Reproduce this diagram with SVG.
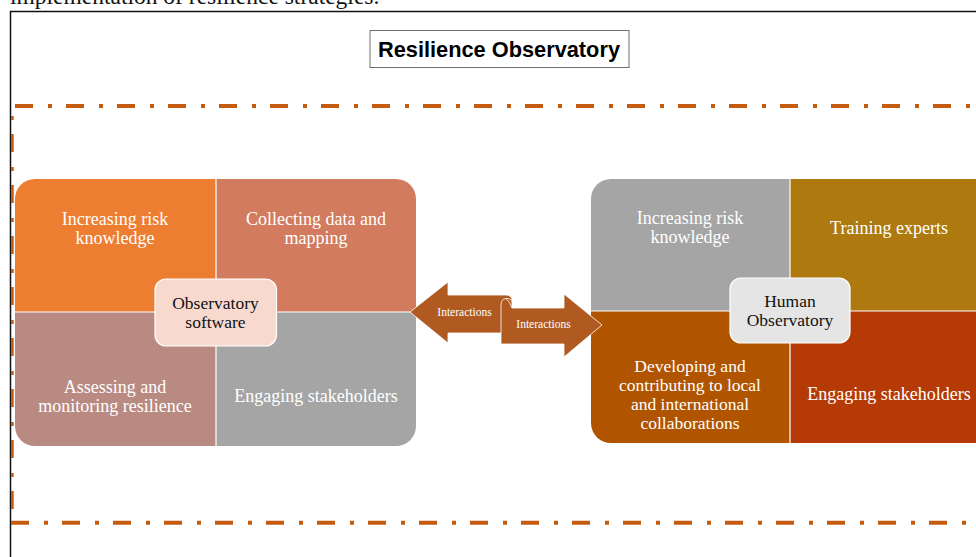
<svg xmlns="http://www.w3.org/2000/svg" width="976" height="557" viewBox="0 0 976 557">
  <style>
    .serif { font-family: "Liberation Serif", "Times New Roman", serif; }
    .cell { font-family: "Liberation Serif", "Times New Roman", serif; font-size: 18px; fill: #ffffff; text-anchor: middle; }
    .cell-sm { font-size: 17.5px; }
    .hub { font-family: "Liberation Serif", "Times New Roman", serif; font-size: 17.5px; fill: #111111; text-anchor: middle; }
    .arrowtxt { font-family: "Liberation Serif", "Times New Roman", serif; font-size: 11.5px; fill: #ffffff; text-anchor: middle; }
    .divider { stroke: #ffffff; stroke-width: 1.2; }
    .dashline { stroke: #C55A11; fill: none; stroke-dasharray: 18 15 4 14; }
    .arrow { fill: #B05A22; stroke: #ffffff; stroke-width: 0.8; }
  </style>
  <defs>
    <clipPath id="clipLeft">
      <rect x="15" y="179" width="401" height="267" rx="20" ry="20"/>
    </clipPath>
    <clipPath id="clipRight">
      <rect x="591" y="179" width="420" height="264" rx="20" ry="20"/>
    </clipPath>
  </defs>

  <rect x="0" y="0" width="976" height="557" fill="#ffffff"/>

  <!-- caption line continued from the page above -->
  <text class="serif" x="10" y="4" font-size="23.5" fill="#111111">implementation of resilience strategies.</text>

  <!-- outer figure frame -->
  <rect x="10.5" y="11.5" width="980" height="560" fill="none" stroke="#111111" stroke-width="1.5"/>

  <!-- dash-dot boundary -->
  <g id="boundary">
    <line class="dashline" x1="15" y1="106" x2="976" y2="106" stroke-width="4"/>
    <line class="dashline" x1="11" y1="522.7" x2="976" y2="522.7" stroke-width="4"/>
    <line class="dashline" x1="12.4" y1="106" x2="12.4" y2="523" stroke-width="2.6" stroke-dashoffset="23"/>
  </g>

  <!-- title -->
  <g id="title">
    <rect x="370" y="30.5" width="259" height="37" fill="#ffffff" stroke="#6f6f6f" stroke-width="1"/>
    <text x="499" y="56.5" font-family="Liberation Sans, Arial, sans-serif" font-weight="bold" font-size="22" text-anchor="middle" fill="#000000" textLength="242" lengthAdjust="spacingAndGlyphs">Resilience Observatory</text>
  </g>

  <!-- left matrix: observatory software -->
  <g id="software-matrix">
    <g clip-path="url(#clipLeft)">
      <rect x="15" y="179" width="201" height="133" fill="#ED7D31"/>
      <rect x="216" y="179" width="200" height="133" fill="#D27B5E"/>
      <rect x="15" y="312" width="201" height="134" fill="#B98A82"/>
      <rect x="216" y="312" width="200" height="134" fill="#A5A5A5"/>
      <line class="divider" x1="216" y1="179" x2="216" y2="446"/>
      <line class="divider" x1="15" y1="312" x2="416" y2="312"/>
    </g>
    <text class="cell" x="115" y="225">Increasing risk</text>
    <text class="cell" x="115" y="244">knowledge</text>
    <text class="cell" x="316" y="225">Collecting data and</text>
    <text class="cell" x="316" y="244">mapping</text>
    <text class="cell" x="115" y="393">Assessing and</text>
    <text class="cell" x="115" y="412">monitoring resilience</text>
    <text class="cell" x="316" y="402">Engaging stakeholders</text>
  </g>
  <g id="software-hub">
    <rect x="155" y="279" width="121.5" height="67" rx="11" ry="11" fill="#F8D9CE" stroke="#ffffff" stroke-width="1.2"/>
    <text class="hub" x="215.5" y="308.5">Observatory</text>
    <text class="hub" x="215.5" y="327.5">software</text>
  </g>

  <!-- right matrix: human observatory -->
  <g id="human-matrix">
    <g clip-path="url(#clipRight)">
      <rect x="591" y="179" width="199" height="132" fill="#A5A5A5"/>
      <rect x="790" y="179" width="221" height="132" fill="#AE7A0F"/>
      <rect x="591" y="311" width="199" height="132" fill="#B05400"/>
      <rect x="790" y="311" width="221" height="132" fill="#B53A06"/>
      <line class="divider" x1="790" y1="179" x2="790" y2="443"/>
      <line class="divider" x1="591" y1="311" x2="1011" y2="311"/>
    </g>
    <text class="cell" x="690" y="224">Increasing risk</text>
    <text class="cell" x="690" y="243">knowledge</text>
    <text class="cell" x="889" y="234">Training experts</text>
    <text class="cell cell-sm" x="690" y="371.5">Developing and</text>
    <text class="cell cell-sm" x="690" y="390.5">contributing to local</text>
    <text class="cell cell-sm" x="690" y="409.5">and international</text>
    <text class="cell cell-sm" x="690" y="428.5">collaborations</text>
    <text class="cell" x="889" y="400">Engaging stakeholders</text>
  </g>
  <g id="human-hub">
    <rect x="730" y="278" width="120" height="65" rx="11" ry="11" fill="#E5E5E5" stroke="#ffffff" stroke-width="1.2"/>
    <text class="hub" x="790" y="306.5">Human</text>
    <text class="hub" x="790" y="325.5">Observatory</text>
  </g>

  <!-- connectors: two-way interaction arrows -->
  <g id="connectors">
    <path class="arrow" d="M410,312 L448,282 L448,295 L506,295 Q512,295 512,301 L512,333 L448,333 L448,343 Z"/>
    <path class="arrow" d="M501,344 L501,305 Q501,299 506,298.5 Q511,298 512,302 L512,308 L564,308 L564,294 L602,325 L564,357 L564,344 Z"/>
    <path d="M506,298.5 Q510,302 512,308" fill="none" stroke="#ffffff" stroke-width="0.8"/>
    <text class="arrowtxt" x="464.5" y="316">Interactions</text>
    <text class="arrowtxt" x="543.5" y="328">Interactions</text>
  </g>
</svg>
